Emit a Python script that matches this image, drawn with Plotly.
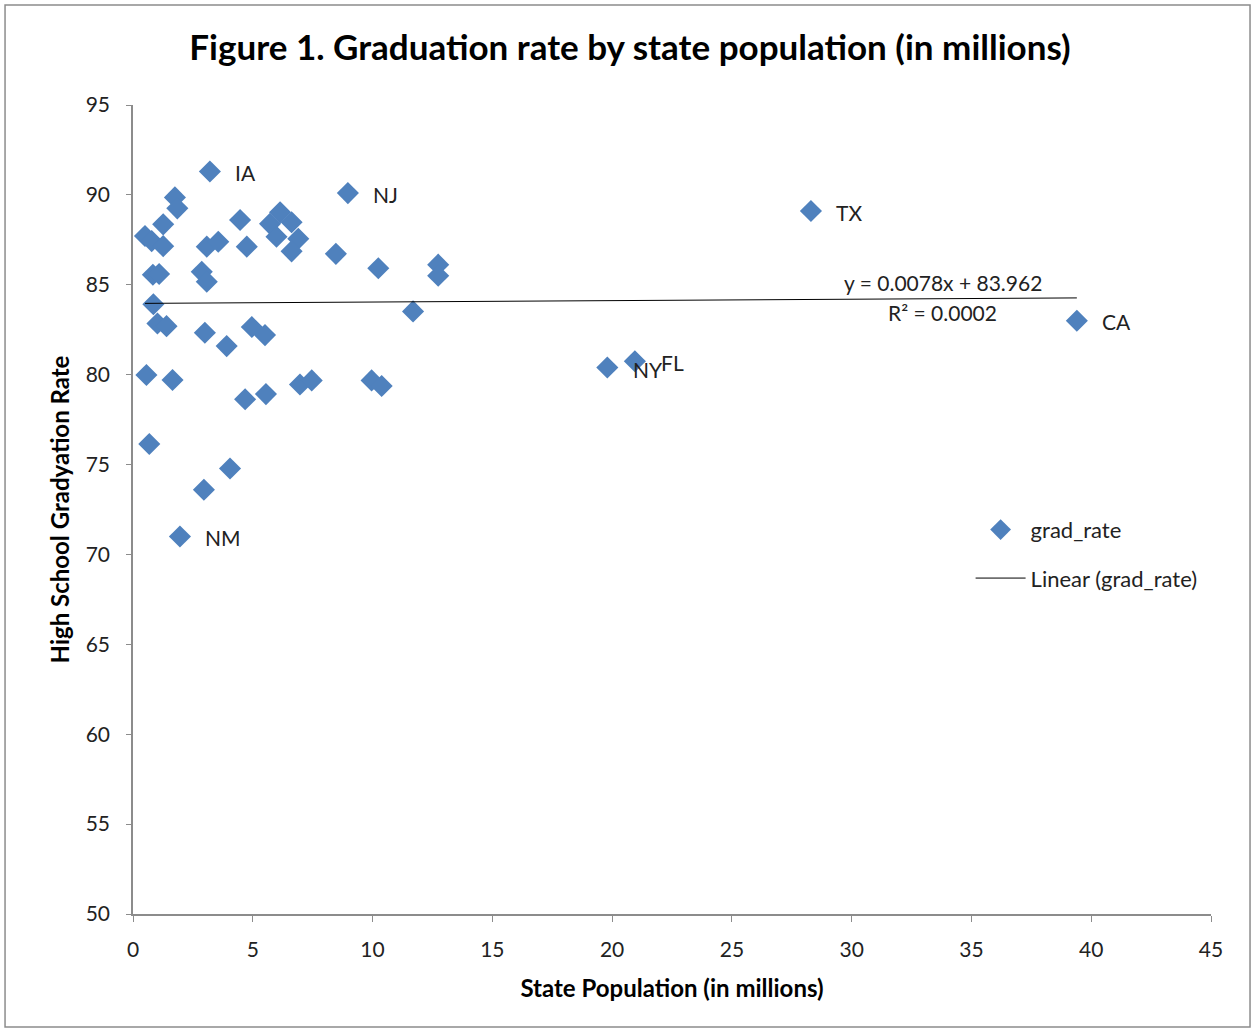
import plotly.graph_objects as go

# State population (millions) and high school graduation rate (%)
population = [
    3.21, 8.97, 28.3, 39.4, 19.8, 20.95, 1.96,
    0.50, 0.78, 1.26, 1.26, 1.75, 1.85, 0.83, 1.09, 0.85, 1.02, 1.40,
    0.56, 1.65, 0.68, 3.08, 2.87, 3.08, 3.0, 2.96, 4.05, 3.91, 4.47,
    3.56, 4.75, 4.68, 4.96, 5.51, 5.55, 6.14, 5.72, 5.99, 6.62, 6.90,
    6.62, 6.97, 7.46, 8.47, 10.24, 9.96, 10.38, 11.69, 12.74, 12.74,
]
grad_rate = [
    91.3, 90.1, 89.1, 83.0, 80.4, 80.75, 71.0,
    87.71, 87.43, 88.36, 87.15, 89.86, 89.25, 85.56, 85.6, 83.92, 82.85, 82.7,
    79.98, 79.7, 76.14, 87.12, 85.72, 85.17, 82.33, 73.6, 74.78, 81.59, 88.6,
    87.39, 87.12, 78.63, 82.65, 82.2, 78.92, 89.03, 88.39, 87.67, 88.48, 87.56,
    86.86, 79.45, 79.68, 86.72, 85.92, 79.68, 79.37, 83.52, 86.12, 85.5,
]
state_labels = ["IA", "NJ", "TX", "CA", "NY", "FL", "NM"] + [""] * 43

# Linear trend line reported for the series
slope = 0.0078
intercept = 83.962

x_ticks = [0, 5, 10, 15, 20, 25, 30, 35, 40, 45]
y_ticks = [50, 55, 60, 65, 70, 75, 80, 85, 90, 95]

FONT = "Lato"
TEXT = "#222222"
MARKER = "#4F81BD"
AXIS = "#8C8C8C"

fig = go.Figure()

fig.add_trace(go.Scatter(
    x=population, y=grad_rate, mode="markers", name="grad_rate",
    marker=dict(symbol="diamond", size=17, color=MARKER, line=dict(width=0)),
    legend="legend", showlegend=True,
))

x_min, x_max = min(population), max(population)
fig.add_trace(go.Scatter(
    x=[x_min, x_max], y=[slope * x_min + intercept, slope * x_max + intercept],
    mode="lines", name="Linear (grad_rate)",
    line=dict(color="#000000", width=1),
    legend="legend2", showlegend=True,
))

# State abbreviations next to the highlighted points
for px, py, lab in zip(population, grad_rate, state_labels):
    if lab:
        fig.add_annotation(
            x=px, y=py, text=lab, showarrow=False, xanchor="left",
            xshift=23 if lab not in ("NY", "FL") else 24,
            yshift=-1 if lab != "NY" else -2,
            font=dict(family=FONT, size=21, color=TEXT),
        )

# Trend line equation and fit statistic
fig.add_annotation(
    x=33.8, y=85.1, text=f"y = {slope}x + {intercept}", showarrow=False,
    font=dict(family=FONT, size=21, color=TEXT),
)
fig.add_annotation(
    x=33.8, y=83.45, text="R² = 0.0002", showarrow=False,
    font=dict(family=FONT, size=21, color=TEXT),
)

# Outer chart frame
fig.add_shape(
    type="rect", xref="paper", yref="paper",
    x0=-0.1187, x1=1.0362, y0=-0.1397, y1=1.1236,
    line=dict(color="#8C8C8C", width=1.5), fillcolor="rgba(0,0,0,0)",
)

fig.update_layout(
    width=1255, height=1033,
    margin=dict(l=133, r=44, t=105, b=119),
    paper_bgcolor="white", plot_bgcolor="white",
    title=dict(
        text="<b>Figure 1. Graduation rate by state population (in millions)</b>",
        x=630 / 1255, xanchor="center", y=1 - 48 / 1033, yanchor="middle",
        font=dict(family=FONT, size=35, color="#000000"),
    ),
    xaxis=dict(
        range=[0, 45], tickvals=x_ticks, ticktext=[str(v) for v in x_ticks],
        showgrid=False, zeroline=False, showline=True, linecolor=AXIS, linewidth=1.5,
        ticks="outside", ticklen=6, tickcolor=AXIS, tickwidth=1, ticklabelstandoff=10,
        tickfont=dict(family=FONT, size=21, color=TEXT),
        title=dict(text="<b>State Population (in millions)</b>",
                   font=dict(family=FONT, size=24, color="#000000"), standoff=20),
    ),
    yaxis=dict(
        range=[50, 95], tickvals=y_ticks, ticktext=[str(v) for v in y_ticks],
        showgrid=False, zeroline=False, showline=True, linecolor=AXIS, linewidth=1.5,
        ticks="outside", ticklen=5, tickcolor=AXIS, tickwidth=1, ticklabelstandoff=12,
        tickfont=dict(family=FONT, size=21, color=TEXT),
        title=dict(text="<b>High School Gradyation Rate</b>",
                   font=dict(family=FONT, size=24, color="#000000"), standoff=9),
    ),
    legend=dict(
        x=0.777, y=0.475, xanchor="left", yanchor="middle", itemwidth=50,
        font=dict(family=FONT, size=22, color=TEXT), bgcolor="rgba(0,0,0,0)",
    ),
    legend2=dict(
        x=0.777, y=0.415, xanchor="left", yanchor="middle", itemwidth=50,
        font=dict(family=FONT, size=22, color=TEXT), bgcolor="rgba(0,0,0,0)",
    ),
)

fig.write_html("out.html")
